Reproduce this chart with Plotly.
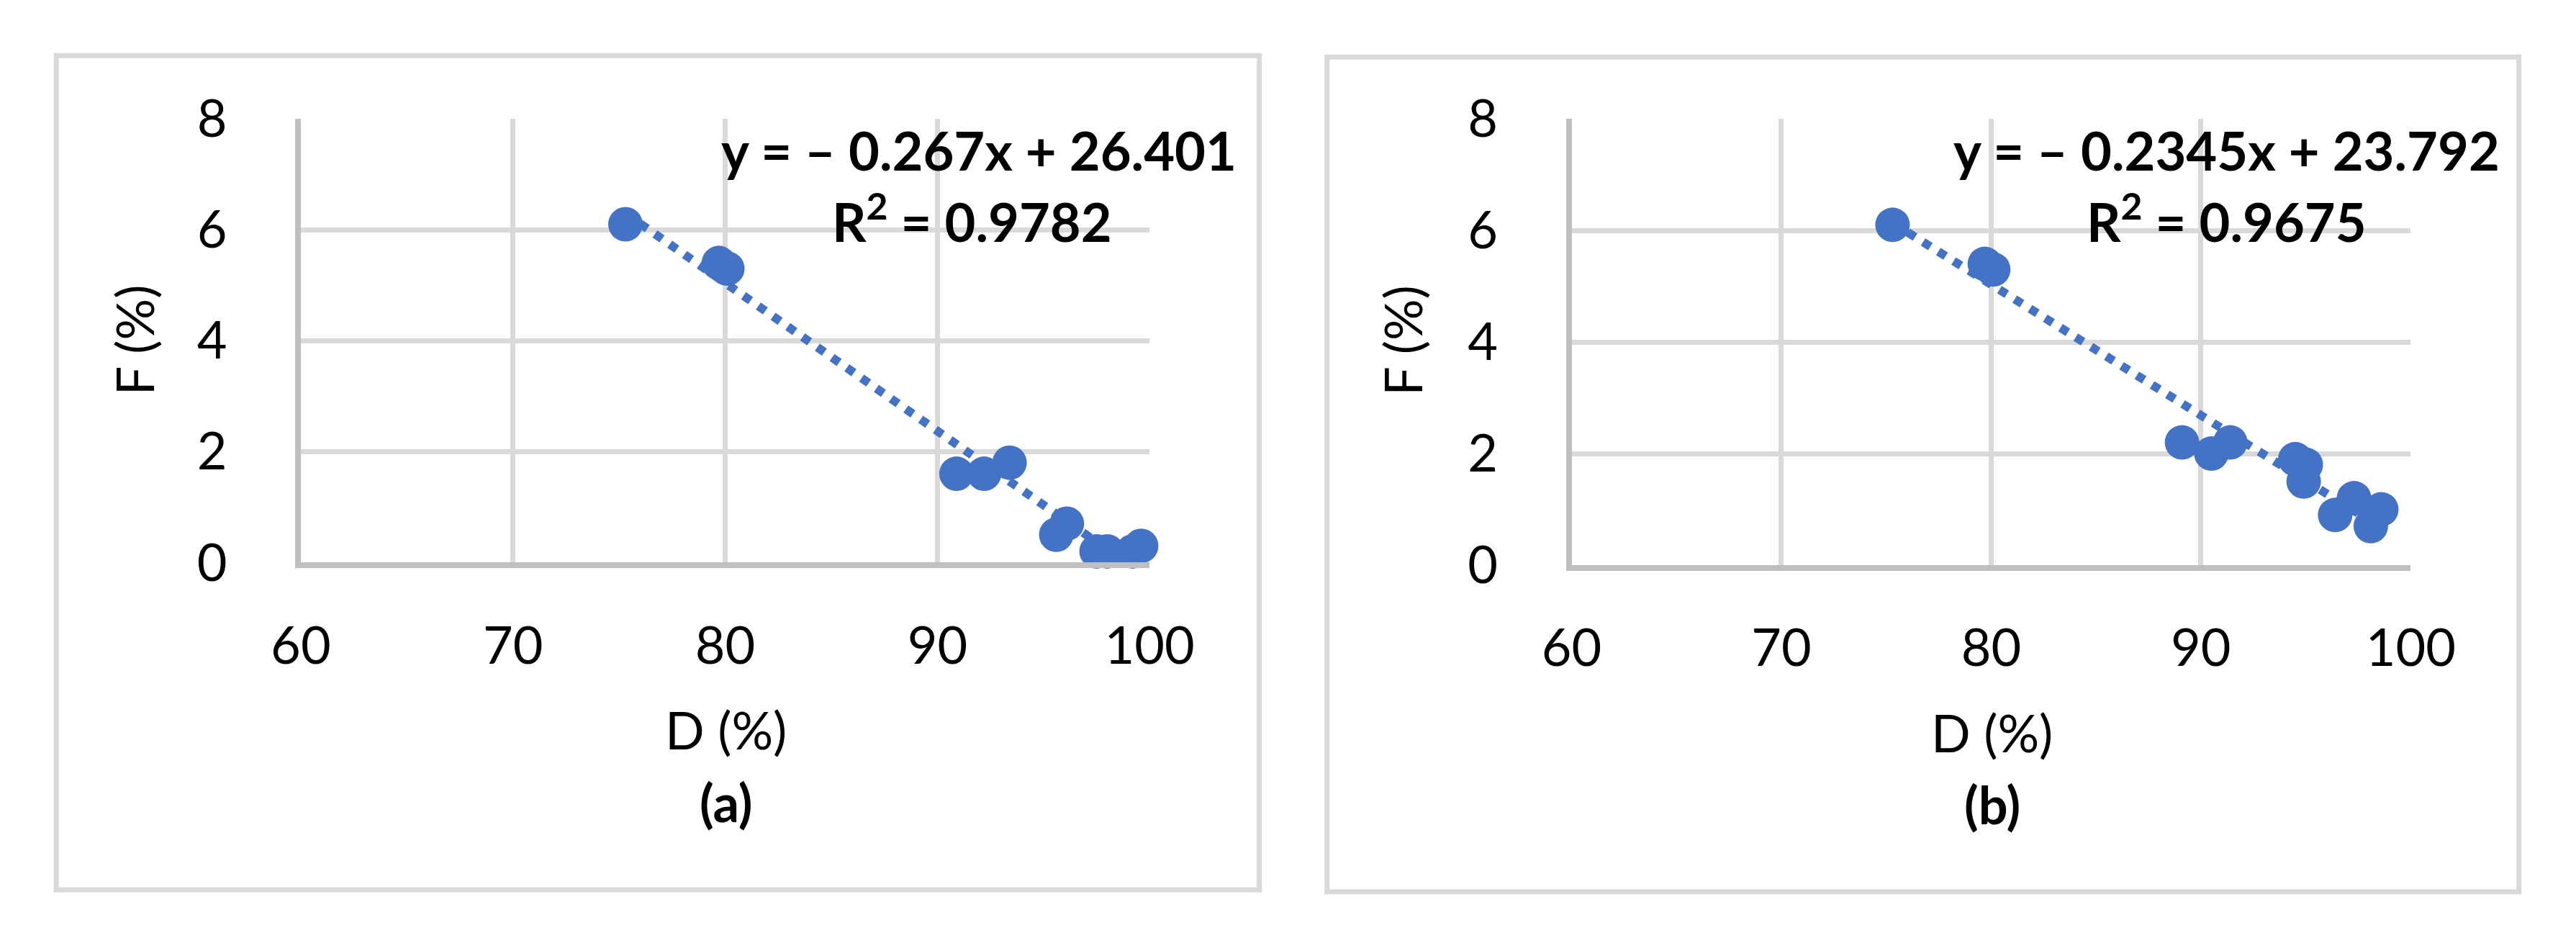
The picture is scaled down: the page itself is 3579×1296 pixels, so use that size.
import plotly.graph_objects as go

W, H = 3579, 1296

# ---- data ----
d_a = [75.3, 79.7, 80.1, 90.9, 92.2, 93.4, 95.6, 96.1, 97.5, 98.0, 99.2, 99.6]
f_a = [6.1, 5.4, 5.3, 1.6, 1.6, 1.8, 0.5, 0.7, 0.2, 0.2, 0.2, 0.3]
slope_a, icpt_a = -0.267, 26.401
eq_a = "y = – 0.267x + 26.401"
r2_a = "R<sup>2</sup> = 0.9782"

d_b = [75.3, 79.7, 80.1, 89.1, 90.5, 91.4, 94.5, 95.0, 94.9, 96.4, 97.3, 98.1, 98.6]
f_b = [6.1, 5.4, 5.3, 2.2, 2.0, 2.2, 1.9, 1.8, 1.5, 0.9, 1.2, 0.7, 1.0]
slope_b, icpt_b = -0.2345, 23.792
eq_b = "y = – 0.2345x + 23.792"
r2_b = "R<sup>2</sup> = 0.9675"

x_ticks = [60, 70, 80, 90, 100]
y_ticks = [0, 2, 4, 6, 8]
x_title = "D (%)"
y_title = "F (%)"
panel_labels = ["(a)", "(b)"]

BLUE = "#4472C4"
FONT = "Lato"
TICK_SIZE = 72
EQ_SIZE = 74


def px(x):
    return x / W


def py(y):
    return 1 - y / H


fig = go.Figure()

for i, (d, f, s, c) in enumerate([(d_a, f_a, slope_a, icpt_a), (d_b, f_b, slope_b, icpt_b)]):
    xa = "x" if i == 0 else "x2"
    ya = "y" if i == 0 else "y2"
    tx = [min(d), max(d)]
    ty = [s * v + c for v in tx]
    fig.add_trace(go.Scatter(x=tx, y=ty, mode="lines", xaxis=xa, yaxis=ya,
                             line=dict(color=BLUE, width=12, dash="12px,13px"),
                             cliponaxis=False, hoverinfo="skip"))
    fig.add_trace(go.Scatter(x=d, y=f, mode="markers", xaxis=xa, yaxis=ya,
                             marker=dict(size=48, color=BLUE, line=dict(width=0)),
                             cliponaxis=False))

axis_common = dict(showgrid=True, gridcolor="#D9D9D9", gridwidth=7,
                   showline=True, linecolor="#BFBFBF", linewidth=8,
                   zeroline=False, ticks="",
                   tickfont=dict(family=FONT, size=TICK_SIZE, color="black"))

# plot-area pixel geometry
geo = [
    dict(x0=379, x1=1594, y0=779, y1=119),
    dict(x0=2198, x1=3399, y0=783, y1=119),
]

fig.update_layout(
    width=W, height=H, margin=dict(l=0, r=0, t=0, b=0),
    paper_bgcolor="white", plot_bgcolor="white", showlegend=False,
    xaxis=dict(domain=[px(geo[0]["x0"]), px(geo[0]["x1"])], range=[60, 100],
               tickvals=x_ticks, anchor="y", ticklabelstandoff=46, **axis_common),
    yaxis=dict(domain=[py(geo[0]["y0"]), py(geo[0]["y1"])], range=[0, 8],
               tickvals=y_ticks, anchor="x", ticklabelstandoff=80, **axis_common),
    xaxis2=dict(domain=[px(geo[1]["x0"]), px(geo[1]["x1"])], range=[60, 100],
                tickvals=x_ticks, anchor="y2", ticklabelstandoff=46, **axis_common),
    yaxis2=dict(domain=[py(geo[1]["y0"]), py(geo[1]["y1"])], range=[0, 8],
                tickvals=y_ticks, anchor="x2", ticklabelstandoff=80, **axis_common),
)

# panel borders
borders = [(29, 25, 1751, 1266), (1848, 27, 3554, 1269)]
for (l, t, r, b) in borders:
    fig.add_shape(type="rect", xref="paper", yref="paper",
                  x0=px(l), x1=px(r), y0=py(b), y1=py(t),
                  line=dict(color="#D9D9D9", width=7), layer="below")


def ann(text, x, y, size, bold=False, angle=0):
    fig.add_annotation(text=f"<b>{text}</b>" if bold else text,
                       xref="paper", yref="paper", x=px(x), y=py(y),
                       xanchor="center", yanchor="middle", showarrow=False,
                       textangle=angle,
                       font=dict(family=FONT, size=size, color="black"))


# panel (a)
ann(x_title, 987, 1027, TICK_SIZE)
ann(panel_labels[0], 987, 1135, TICK_SIZE, bold=True)
ann(y_title, 140, 448, TICK_SIZE, angle=-90)
ann(eq_a, 1350, 165, EQ_SIZE, bold=True)
ann(r2_a, 1340, 267, EQ_SIZE, bold=True)

# panel (b)
ann(x_title, 2800, 1031, TICK_SIZE)
ann(panel_labels[1], 2800, 1139, TICK_SIZE, bold=True)
ann(y_title, 1956, 449, TICK_SIZE, angle=-90)
ann(eq_b, 3135, 165, EQ_SIZE, bold=True)
ann(r2_b, 3135, 267, EQ_SIZE, bold=True)

fig.write_html("out.html")
